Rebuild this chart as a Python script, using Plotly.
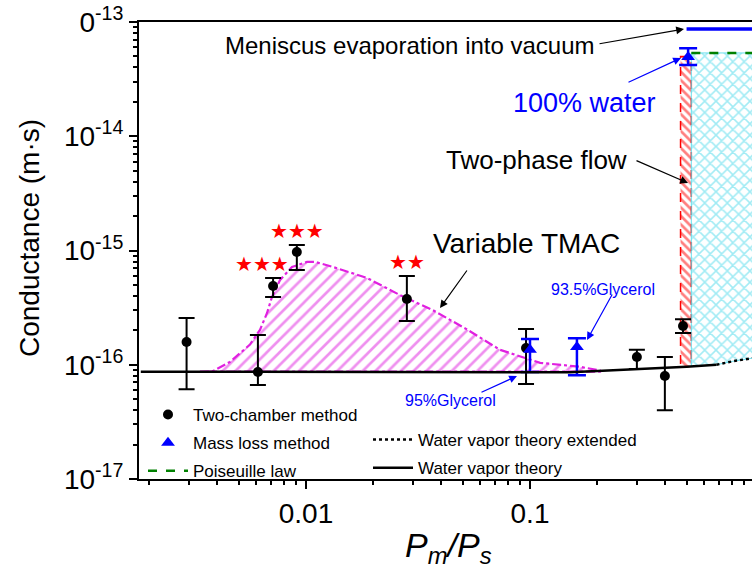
import math
import plotly.graph_objects as go

# ---------------- data ----------------
tc_x = [0.00293, 0.0061, 0.00713, 0.0091, 0.0282, 0.096, 0.30, 0.40, 0.482]
tc_y = [1.58e-16, 8.65e-17, 4.89e-16, 9.7e-16, 3.76e-16, 1.4e-16, 1.17e-16, 7.97e-17, 2.18e-16]
tc_hi = [2.57e-16, 1.82e-16, 5.75e-16, 1.12e-15, 5.98e-16, 2.06e-16, 1.35e-16, 1.17e-16, 2.5e-16]
tc_lo = [6.1e-17, 6.65e-17, 3.92e-16, 6.76e-16, 2.42e-16, 6.8e-17, 9.2e-17, 4.0e-17, 1.9e-16]
tc_stars = ["", "", "★★★", "★★★", "★★", "", "", "", ""]

ml_x = [0.1, 0.162, 0.508]
ml_y = [1.35e-16, 1.43e-16, 4.94e-14]
ml_hi = [1.68e-16, 1.71e-16, 5.9e-14]
ml_lo = [8.65e-17, 8.1e-17, 4.2e-14]

tmac_x = [0.00336, 0.00385, 0.00458, 0.00562, 0.00623, 0.0067, 0.00705, 0.00766, 0.00866,
          0.0101, 0.011, 0.0132, 0.0187, 0.0263, 0.0369, 0.0518, 0.0735, 0.111, 0.167, 0.205]
tmac_y = [8.7e-17, 8.8e-17, 1.06e-16, 1.5e-16, 2.02e-16, 2.84e-16, 3.92e-16, 5.52e-16, 7.18e-16,
          7.94e-16, 7.94e-16, 7.18e-16, 5.75e-16, 4.07e-16, 3.0e-16, 2.06e-16, 1.35e-16, 1.04e-16,
          9.6e-17, 8.9e-17]
tmac_base = 8.7e-17

vap_x = [0.00183, 0.01, 0.1, 0.15, 0.2, 0.3, 0.4, 0.5, 0.68]
vap_y = [8.7e-17, 8.7e-17, 8.6e-17, 8.6e-17, 8.8e-17, 9.1e-17, 9.3e-17, 9.6e-17, 1.0e-16]
vapext_x = [0.68, 0.8, 1.0]
vapext_y = [1.0e-16, 1.07e-16, 1.15e-16]

twophase_x = [0.47, 0.525]
twophase_lo = [9.55e-17, 9.7e-17]
twophase_hi = 5.0e-14

cyan_x = [0.525, 0.68, 0.8, 1.0]
cyan_lo = [9.7e-17, 1.0e-16, 1.07e-16, 1.15e-16]
pois_x = [0.525, 1.0]
pois_y = [5.36e-14, 5.36e-14]
men_x = [0.50, 1.0]
men_y = [8.7e-14, 8.7e-14]

FONT = "Arial, Liberation Sans, sans-serif"

fig = go.Figure()

# Variable TMAC region
fig.add_trace(go.Scatter(
    x=tmac_x + tmac_x[::-1], y=tmac_y + [tmac_base] * len(tmac_x),
    fill="toself", mode="lines",
    line=dict(color="#e020e0", width=2.2, dash="dashdot"),
    fillcolor="rgba(0,0,0,0)",
    fillpattern=dict(shape="/", fgcolor="#e020e0", bgcolor="rgba(0,0,0,0)", size=9, solidity=0.3),
    showlegend=False, hoverinfo="skip"))

# Two-phase region (red)
fig.add_trace(go.Scatter(
    x=[twophase_x[0], twophase_x[1], twophase_x[1], twophase_x[0], twophase_x[0]],
    y=[twophase_lo[0], twophase_lo[1], twophase_hi, twophase_hi, twophase_lo[0]],
    fill="toself", mode="lines",
    line=dict(color="red", width=1.5, dash="dash"),
    fillcolor="rgba(0,0,0,0)",
    fillpattern=dict(shape="\\", fgcolor="red", bgcolor="rgba(0,0,0,0)", size=6, solidity=0.45),
    showlegend=False, hoverinfo="skip"))

# Cyan region
fig.add_trace(go.Scatter(
    x=cyan_x + [cyan_x[-1], cyan_x[0], cyan_x[0]],
    y=cyan_lo + [pois_y[1], pois_y[0], cyan_lo[0]],
    fill="toself", mode="lines",
    line=dict(color="rgba(90,220,235,0.9)", width=1),
    fillcolor="rgba(0,0,0,0)",
    fillpattern=dict(shape="x", fgcolor="#44d8ea", bgcolor="rgba(0,0,0,0)", size=8, solidity=0.35),
    showlegend=False, hoverinfo="skip"))

# Meniscus evaporation line
fig.add_trace(go.Scatter(x=men_x, y=men_y, mode="lines",
                         line=dict(color="#0000ff", width=3.5), showlegend=False, hoverinfo="skip"))

# Legend 1 traces
fig.add_trace(go.Scatter(
    x=tc_x, y=tc_y, mode="markers", name="Two-chamber method",
    marker=dict(color="black", size=10, symbol="circle"),
    error_y=dict(type="data", symmetric=False,
                 array=[h - v for h, v in zip(tc_hi, tc_y)],
                 arrayminus=[v - l for l, v in zip(tc_lo, tc_y)],
                 color="black", thickness=2, width=8),
    legend="legend", legendgroup="a"))
fig.add_trace(go.Scatter(
    x=ml_x, y=ml_y, mode="markers", name="Mass loss method",
    marker=dict(color="#0000ff", size=12, symbol="triangle-up"),
    error_y=dict(type="data", symmetric=False,
                 array=[h - v for h, v in zip(ml_hi, ml_y)],
                 arrayminus=[v - l for l, v in zip(ml_lo, ml_y)],
                 color="#0000ff", thickness=2.5, width=9),
    legend="legend", legendgroup="b"))
fig.add_trace(go.Scatter(
    x=pois_x, y=pois_y, mode="lines", name="Poiseuille law",
    line=dict(color="#008000", width=2.5, dash="dash"),
    legend="legend", legendgroup="c"))

# Legend 2 traces
fig.add_trace(go.Scatter(
    x=vapext_x, y=vapext_y, mode="lines", name="Water vapor theory extended",
    line=dict(color="black", width=2.5, dash="dot"),
    legend="legend2", legendgroup="d"))
fig.add_trace(go.Scatter(
    x=vap_x, y=vap_y, mode="lines", name="Water vapor theory",
    line=dict(color="black", width=2.5),
    legend="legend2", legendgroup="e"))

# ---------------- layout geometry ----------------
L, T, W, H = 139, 22, 613, 457


def px(xp):
    return (xp - L) / W


def py(yp):
    return (T + H - yp) / H


ann = []
# stars over data points
for xv, hv, s in zip(tc_x, tc_hi, tc_stars):
    if s:
        ann.append(dict(x=math.log10(xv), y=math.log10(hv),
                        xref="x", yref="y", text=s, showarrow=False,
                        yanchor="bottom", yshift=0, xshift=-11 if xv < 0.008 else 0,
                        font=dict(family="DejaVu Sans", size=20, color="#ff0000")))

# text labels
ann += [
    dict(x=px(597), y=py(46), xref="paper", yref="paper", xanchor="right", yanchor="middle",
         text="Meniscus evaporation into vacuum", showarrow=False,
         font=dict(family=FONT, size=24, color="black")),
    dict(x=px(658), y=py(103), xref="paper", yref="paper", xanchor="right", yanchor="middle",
         text="100% water", showarrow=False, font=dict(family=FONT, size=27, color="#0000ff")),
    dict(x=px(629), y=py(160), xref="paper", yref="paper", xanchor="right", yanchor="middle",
         text="Two-phase flow", showarrow=False, font=dict(family=FONT, size=26, color="black")),
    dict(x=px(431), y=py(243), xref="paper", yref="paper", xanchor="left", yanchor="middle",
         text="Variable TMAC", showarrow=False, font=dict(family=FONT, size=28, color="black")),
    dict(x=px(657), y=py(289), xref="paper", yref="paper", xanchor="right", yanchor="middle",
         text="93.5%Glycerol", showarrow=False, font=dict(family=FONT, size=16, color="#0000ff")),
    dict(x=px(403), y=py(400), xref="paper", yref="paper", xanchor="left", yanchor="middle",
         text="95%Glycerol", showarrow=False, font=dict(family=FONT, size=16, color="#0000ff")),
    # axis titles
    dict(x=px(29), y=py(238), xref="paper", yref="paper", xanchor="center", yanchor="middle",
         text="Conductance (m·s)", textangle=-90, showarrow=False,
         font=dict(family=FONT, size=28, color="black")),
    dict(x=px(448), y=py(547), xref="paper", yref="paper", xanchor="center", yanchor="middle",
         text="<i>P<sub>m</sub>/P<sub>s</sub></i>", showarrow=False,
         font=dict(family=FONT, size=34, color="black")),
]


def arrow(tail, head, color, width=1.2):
    return dict(x=px(head[0]), y=py(head[1]), xref="paper", yref="paper",
                ax=tail[0] - head[0], ay=tail[1] - head[1], axref="pixel", ayref="pixel",
                text="", showarrow=True, arrowhead=2, arrowsize=1.3, arrowwidth=width,
                arrowcolor=color)


ann += [
    arrow((598, 44), (684, 29), "black"),
    arrow((627, 83), (681, 58), "#0000ff"),
    arrow((635, 160), (688, 183), "black"),
    arrow((468, 269), (440, 308), "black"),
    arrow((613, 293), (587, 340), "#0000ff"),
    arrow((480, 393), (517, 376), "#0000ff"),
]

y_major = [1e-17, 1e-16, 1e-15, 1e-14, 1e-13]
y_text = ["10<sup>-17</sup>", "10<sup>-16</sup>", "10<sup>-15</sup>", "10<sup>-14</sup>", "0<sup>-13</sup>"]
y_minor = [k * 10.0 ** e for e in range(-17, -13) for k in range(2, 10)]
x_major = [0.01, 0.1, 1]
x_text = ["0.01", "0.1", "1"]
x_minor = [k * 10.0 ** e for e in range(-3, 0) for k in range(2, 10)]

fig.update_layout(
    width=752, height=571,
    margin=dict(l=L, r=752 - L - W, t=T, b=571 - T - H),
    paper_bgcolor="white", plot_bgcolor="white",
    font=dict(family=FONT, color="black"),
    annotations=ann,
    legend=dict(x=px(143), y=py(397), xanchor="left", yanchor="top",
                bgcolor="rgba(0,0,0,0)", font=dict(size=17, family=FONT),
                tracegroupgap=3, itemwidth=40),
    legend2=dict(x=px(368), y=py(422), xanchor="left", yanchor="top",
                 bgcolor="rgba(0,0,0,0)", font=dict(size=17, family=FONT),
                 tracegroupgap=3, itemwidth=40),
    xaxis=dict(type="log", range=[-2 - 167 / 224, -2 + 446 / 224],
               showline=True, linecolor="black", linewidth=2, mirror=True,
               showgrid=False, zeroline=False,
               tickmode="array", tickvals=x_major, ticktext=x_text,
               ticks="outside", ticklen=8, tickwidth=1.5, tickcolor="black",
               minor=dict(tickmode="array", tickvals=x_minor, ticks="outside", ticklen=4,
                          tickwidth=1.5, tickcolor="black", showgrid=False),
               tickfont=dict(size=28, family=FONT),
               automargin=False),
    yaxis=dict(type="log", range=[-17, -13],
               showline=True, linecolor="black", linewidth=2, mirror=False,
               showgrid=False, zeroline=False,
               tickmode="array", tickvals=y_major, ticktext=y_text,
               ticks="outside", ticklen=8, tickwidth=1.5, tickcolor="black",
               minor=dict(tickmode="array", tickvals=y_minor, ticks="outside", ticklen=4,
                          tickwidth=1.5, tickcolor="black", showgrid=False),
               tickfont=dict(size=28, family=FONT),
               automargin=False),
)

fig.write_html("out.html")
